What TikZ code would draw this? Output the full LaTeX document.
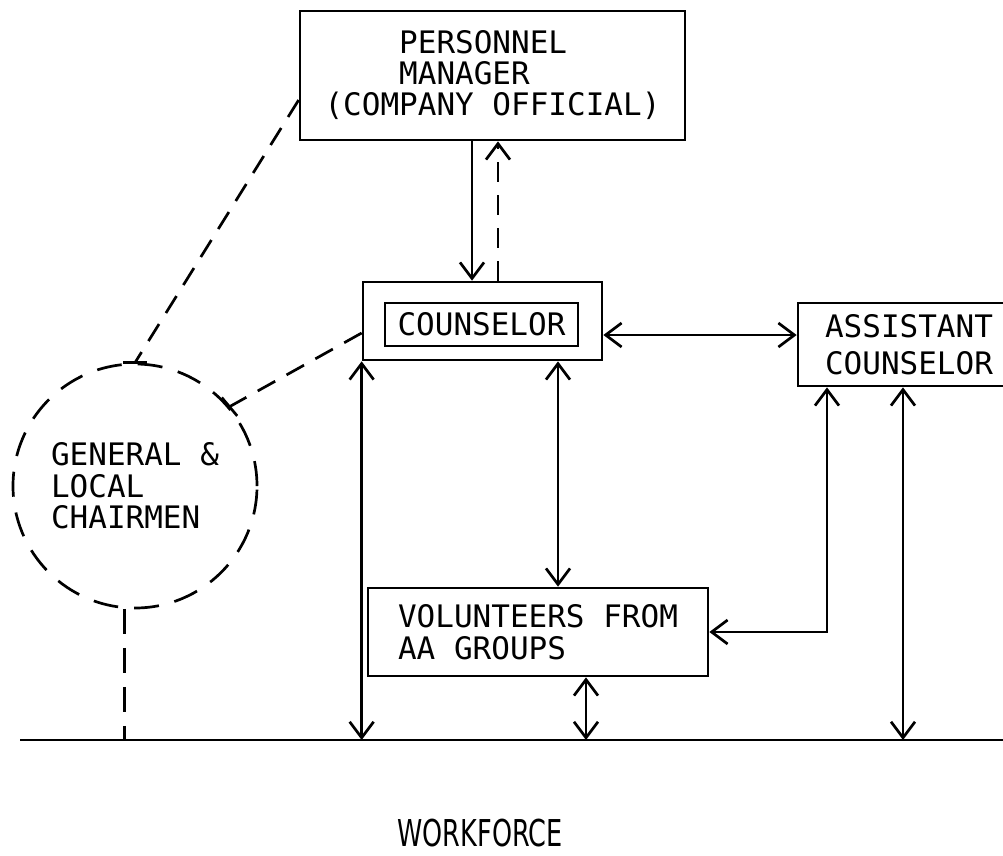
\documentclass[tikz,border=0pt]{standalone}
\usepackage{fontspec}
\usepackage{graphicx}
\newfontfamily\tw{DejaVu Sans Mono}
\newfontfamily\wf{DejaVu Sans}
\usetikzlibrary{arrows.meta,calc}
\begin{document}
\begin{tikzpicture}[x=1pt,y=-1pt,
  lw/.style={line width=2.7pt},
  hd/.tip={Straight Barb[length=16pt,width=24pt]},
  box/.style={draw, lw, rectangle, inner sep=0pt, font=\tw\fontsize{31}{31}\selectfont},
  fwd/.style={lw,-hd},
  dbl/.style={lw,hd-hd},
  dsh/.style={lw,dash pattern=on 20pt off 13pt},
  dshv/.style={lw,dash pattern=on 25pt off 14pt}
]
\useasboundingbox (0,0) rectangle (1003,855);
\fill[white] (0,0) rectangle (1003,855);
\clip (0,0) rectangle (1003,855);

% boxes
\node[box, minimum width=385, minimum height=129, align=left] (pm) at (492.5,75.5)
  {\phantom{XXXX}PERSONNEL\\\phantom{XXXX}MANAGER\\(COMPANY OFFICIAL)\rule[-6pt]{0pt}{0pt}};
\node[box, minimum width=239, minimum height=78] (cou) at (482.5,321) {};
\node[box, minimum width=193, minimum height=43] (coui) at (481.5,324.5) {COUNSELOR};
\node[box, minimum width=222, minimum height=83, align=left,
      font=\tw\fontsize{31}{37}\selectfont] (asst) at (909,344.5) {ASSISTANT\\COUNSELOR};
\node[box, minimum width=340, minimum height=88, align=left,
      font=\tw\fontsize{31}{32}\selectfont] (vol) at (538,632) {VOLUNTEERS FROM\\AA GROUPS};
\node[draw, circle, lw, dash pattern=on 25pt off 16pt, minimum size=244, inner sep=0pt,
      align=left, font=\tw\fontsize{31}{31.5}\selectfont] (chair) at (135,486)
  {GENERAL \&\\LOCAL\\CHAIRMEN};

% workforce line and label
\coordinate (wl) at (20,740);
\coordinate (wr) at (1003,740);
\draw[lw] (wl) -- (wr);
\node[font=\wf\fontsize{37}{37}\selectfont, inner sep=0pt] (wf) at (480,833.5)
  {\scalebox{0.69}[1]{WORKFORCE}};

% connectors
\coordinate (xa) at (472,0);
\coordinate (xb) at (498,0);
\coordinate (xc) at (558,0);
\coordinate (xd) at (586,0);
\coordinate (xe) at (827,0);
\coordinate (xf) at (903,0);
\coordinate (ce) at ([yshift=-14pt]cou.east);
\coordinate (cw) at ([yshift=-12pt]cou.west);
\coordinate (pmw) at ([yshift=-24.5pt]pm.west);

\draw[fwd] (xa |- pm.south) -- (xa |- cou.north);
\draw[dsh,-hd] (xb |- cou.north) -- (xb |- pm.south);
\draw[dbl] (ce) -- (ce -| asst.west);
\draw[dbl] (cou.south west) -- (cou.south west |- wl);
\draw[dbl] (xc |- cou.south) -- (xc |- vol.north);
\draw[dbl] (xd |- vol.south) -- (xd |- wl);
\draw[dbl] (xe |- asst.south) -- (xe |- vol.east) -- (vol.east);
\draw[dbl] (xf |- asst.south) -- (xf |- wl);

% dashed links to chairmen
\draw[dsh] (pmw) -- (chair.north);
\draw[lw] ([xshift=-12pt]chair.north) -- ([xshift=12pt]chair.north);
\draw[dsh] (cw) -- (chair.40);
\draw[lw] ($(chair.40)!12pt!90:(chair.center)$) -- ($(chair.40)!12pt!-90:(chair.center)$);
\draw[dshv] (chair.265) -- (chair.265 |- wl);
\end{tikzpicture}
\end{document}
